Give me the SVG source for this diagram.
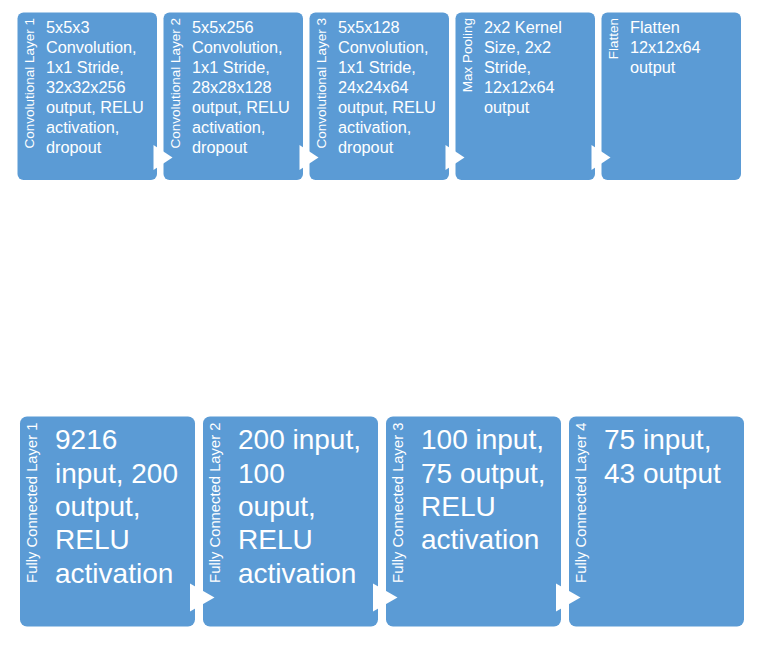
<svg xmlns="http://www.w3.org/2000/svg" width="771" height="654" viewBox="0 0 771 654">
<style>
.box{fill:#5B9BD5;}
.lbl{fill:#fff;font-family:"Liberation Sans",Arial,sans-serif;text-anchor:end;}
.lt{font-size:13.5px;}
.lb{font-size:14.8px;}
.tt{fill:#fff;font-family:"Liberation Sans",Arial,sans-serif;font-size:16.3px;}
.bt{fill:#fff;font-family:"Liberation Sans",Arial,sans-serif;font-size:28px;}
.arr{fill:#fff;}
</style>
<rect width="771" height="654" fill="#fff"/>
<g id="conv1">
<rect class="box" x="17.5" y="12.5" width="139.5" height="167.5" rx="6"/>
<text class="lbl lt" transform="translate(34,18) rotate(-90)">Convolutional Layer 1</text>
<text class="tt" x="46" y="32.5"><tspan x="46">5x5x3</tspan><tspan x="46" dy="20">Convolution,</tspan><tspan x="46" dy="20">1x1 Stride,</tspan><tspan x="46" dy="20">32x32x256</tspan><tspan x="46" dy="20">output, RELU</tspan><tspan x="46" dy="20">activation,</tspan><tspan x="46" dy="20">dropout</tspan></text>
</g>
<g id="conv2">
<rect class="box" x="163.5" y="12.5" width="139.5" height="167.5" rx="6"/>
<text class="lbl lt" transform="translate(180,18) rotate(-90)">Convolutional Layer 2</text>
<text class="tt" x="192" y="32.5"><tspan x="192">5x5x256</tspan><tspan x="192" dy="20">Convolution,</tspan><tspan x="192" dy="20">1x1 Stride,</tspan><tspan x="192" dy="20">28x28x128</tspan><tspan x="192" dy="20">output, RELU</tspan><tspan x="192" dy="20">activation,</tspan><tspan x="192" dy="20">dropout</tspan></text>
</g>
<g id="conv3">
<rect class="box" x="309.5" y="12.5" width="139.5" height="167.5" rx="6"/>
<text class="lbl lt" transform="translate(326,18) rotate(-90)">Convolutional Layer 3</text>
<text class="tt" x="338" y="32.5"><tspan x="338">5x5x128</tspan><tspan x="338" dy="20">Convolution,</tspan><tspan x="338" dy="20">1x1 Stride,</tspan><tspan x="338" dy="20">24x24x64</tspan><tspan x="338" dy="20">output, RELU</tspan><tspan x="338" dy="20">activation,</tspan><tspan x="338" dy="20">dropout</tspan></text>
</g>
<g id="maxpool">
<rect class="box" x="455.5" y="12.5" width="139.5" height="167.5" rx="6"/>
<text class="lbl lt" transform="translate(472,18) rotate(-90)">Max Pooling</text>
<text class="tt" x="484" y="32.5"><tspan x="484">2x2 Kernel</tspan><tspan x="484" dy="20">Size, 2x2</tspan><tspan x="484" dy="20">Stride,</tspan><tspan x="484" dy="20">12x12x64</tspan><tspan x="484" dy="20">output</tspan></text>
</g>
<g id="flatten">
<rect class="box" x="601.5" y="12.5" width="139.5" height="167.5" rx="6"/>
<text class="lbl lt" transform="translate(618,18) rotate(-90)">Flatten</text>
<text class="tt" x="630" y="32.5"><tspan x="630">Flatten</tspan><tspan x="630" dy="20">12x12x64</tspan><tspan x="630" dy="20">output</tspan></text>
</g>
<g id="fc1">
<rect class="box" x="20" y="416.5" width="175" height="210" rx="7"/>
<text class="lbl lb" transform="translate(37,422.5) rotate(-90)">Fully Connected Layer 1</text>
<text class="bt" x="55" y="449.3"><tspan x="55">9216</tspan><tspan x="55" dy="33.3">input, 200</tspan><tspan x="55" dy="33.3">output,</tspan><tspan x="55" dy="33.3">RELU</tspan><tspan x="55" dy="33.3">activation</tspan></text>
</g>
<g id="fc2">
<rect class="box" x="203" y="416.5" width="175" height="210" rx="7"/>
<text class="lbl lb" transform="translate(220,422.5) rotate(-90)">Fully Connected Layer 2</text>
<text class="bt" x="238" y="449.3"><tspan x="238">200 input,</tspan><tspan x="238" dy="33.3">100</tspan><tspan x="238" dy="33.3">ouput,</tspan><tspan x="238" dy="33.3">RELU</tspan><tspan x="238" dy="33.3">activation</tspan></text>
</g>
<g id="fc3">
<rect class="box" x="386" y="416.5" width="175" height="210" rx="7"/>
<text class="lbl lb" transform="translate(403,422.5) rotate(-90)">Fully Connected Layer 3</text>
<text class="bt" x="421" y="449.3"><tspan x="421">100 input,</tspan><tspan x="421" dy="33.3">75 output,</tspan><tspan x="421" dy="33.3">RELU</tspan><tspan x="421" dy="33.3">activation</tspan></text>
</g>
<g id="fc4">
<rect class="box" x="569" y="416.5" width="175" height="210" rx="7"/>
<text class="lbl lb" transform="translate(586,422.5) rotate(-90)">Fully Connected Layer 4</text>
<text class="bt" x="604" y="449.3"><tspan x="604">75 input,</tspan><tspan x="604" dy="33.3">43 output</tspan></text>
</g>
<g id="connectors">
<polygon class="arr" points="153.5,145 172.5,157.5 153.5,170"/>
<polygon class="arr" points="299.5,145 318.5,157.5 299.5,170"/>
<polygon class="arr" points="445.5,145 464.5,157.5 445.5,170"/>
<polygon class="arr" points="591.5,145 610.5,157.5 591.5,170"/>
<polygon class="arr" points="190,583.5 214.5,597.5 190,611.5"/>
<polygon class="arr" points="373,583.5 397.5,597.5 373,611.5"/>
<polygon class="arr" points="556,583.5 580.5,597.5 556,611.5"/>
</g>
</svg>
